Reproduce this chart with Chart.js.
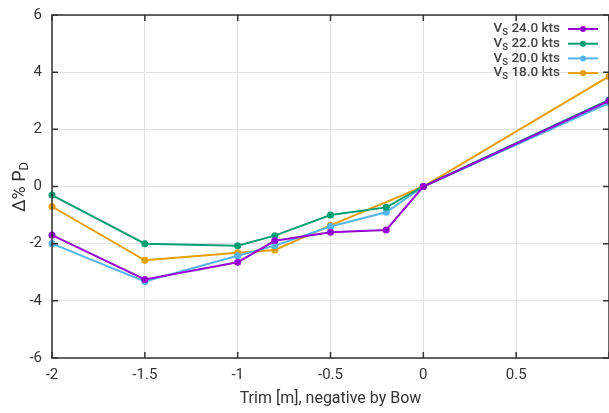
<!DOCTYPE html>
<html>
<head>
<meta charset="utf-8">
<script src="https://cdn.jsdelivr.net/npm/chart.js@4/dist/chart.umd.min.js"></script>
<style>
  html, body { margin: 0; padding: 0; background: #fff; overflow: hidden; }
  #wrap { width: 613px; height: 413px; }
</style>
</head>
<body>
<div id="wrap"><canvas id="c"></canvas></div>
<script>
// speeds (legend), trim positions and delta power per speed
const speeds = ['24.0', '22.0', '20.0', '18.0'];
const colors = ['#9400d3', '#009e73', '#56b4e9', '#e69f00'];

const trim24 = [-2, -1.5, -1, -0.8, -0.5, -0.2, 0, 1];
const dp24 = [-1.7, -3.25, -2.65, -1.9, -1.6, -1.52, 0, 3.0];

const trim22 = [-2, -1.5, -1, -0.8, -0.5, -0.2, 0, 1];
const dp22 = [-0.3, -2.0, -2.07, -1.72, -1.0, -0.73, 0, 3.03];

const trim20 = [-2, -1.5, -1, -0.8, -0.5, -0.2, 0, 1];
const dp20 = [-2.0, -3.32, -2.42, -2.07, -1.4, -0.9, 0, 2.92];

const trim18 = [-2, -1.5, -1, -0.8, -0.5, 0, 1];
const dp18 = [-0.7, -2.58, -2.32, -2.22, -1.36, 0, 3.85];

const xTicks = [-2, -1.5, -1, -0.5, 0, 0.5, 1];
const yTicks = [-6, -4, -2, 0, 2, 4, 6];

const toXY = (xs, ys) => xs.map((x, i) => ({ x: x, y: ys[i] }));
const series = [toXY(trim24, dp24), toXY(trim22, dp22), toXY(trim20, dp20), toXY(trim18, dp18)];

const FONT = 'Roboto, "Open Sans", sans-serif';

// draws frame, inward ticks, y title with subscript and the legend
const extras = {
  id: 'extras',
  afterDraw(chart) {
    const ctx = chart.ctx;
    const a = chart.chartArea;
    const xs = chart.scales.x, ys = chart.scales.y;
    ctx.save();
    ctx.strokeStyle = '#333';
    ctx.lineWidth = 1.5;
    ctx.strokeRect(a.left, a.top, a.right - a.left, a.bottom - a.top);
    ctx.beginPath();
    yTicks.forEach(v => {
      const y = ys.getPixelForValue(v);
      ctx.moveTo(a.left, y); ctx.lineTo(a.left + 6, y);
      ctx.moveTo(a.right, y); ctx.lineTo(a.right - 6, y);
    });
    xTicks.forEach(v => {
      const x = xs.getPixelForValue(v);
      ctx.moveTo(x, a.bottom); ctx.lineTo(x, a.bottom - 6);
      ctx.moveTo(x, a.top); ctx.lineTo(x, a.top + 6);
    });
    ctx.stroke();

    // y title
    ctx.fillStyle = '#333';
    ctx.translate(20, 187);
    ctx.rotate(-Math.PI / 2);
    ctx.font = '18px ' + FONT;
    ctx.textBaseline = 'middle';
    const t1 = 'Δ% P';
    const w1 = ctx.measureText(t1).width;
    ctx.font = '13px ' + FONT;
    const w2 = ctx.measureText('D').width;
    let sx = -(w1 + w2) / 2;
    ctx.font = '18px ' + FONT;
    ctx.textAlign = 'left';
    ctx.fillText(t1, sx, 0);
    ctx.font = '13px ' + FONT;
    ctx.fillText('D', sx + w1, 5);
    ctx.setTransform(1, 0, 0, 1, 0, 0);

    // legend
    speeds.forEach((s, i) => {
      const y = 29 + i * 14.7;
      const label = ' ' + s + ' kts';
      ctx.font = '500 13.5px ' + FONT;
      ctx.textBaseline = 'middle';
      const wl = ctx.measureText(label).width;
      const wv = ctx.measureText('V').width;
      ctx.font = '500 9.5px ' + FONT;
      const ws = ctx.measureText('S').width;
      const right = 560;
      const start = right - wl - ws - wv;
      ctx.fillStyle = '#444';
      ctx.font = '500 13.5px ' + FONT;
      ctx.textAlign = 'left';
      ctx.fillText('V', start, y);
      ctx.font = '500 9.5px ' + FONT;
      ctx.fillText('S', start + wv, y + 4);
      ctx.font = '500 13.5px ' + FONT;
      ctx.fillText(label, start + wv + ws, y);
      ctx.strokeStyle = colors[i];
      ctx.lineWidth = 2;
      ctx.beginPath();
      ctx.moveTo(568, y); ctx.lineTo(598, y);
      ctx.stroke();
      ctx.fillStyle = colors[i];
      ctx.beginPath();
      ctx.arc(583, y, 3, 0, Math.PI * 2);
      ctx.fill();
    });
    ctx.restore();
  }
};

new Chart(document.getElementById('c'), {
  type: 'line',
  data: {
    datasets: series.map((d, i) => ({
      label: 'Vs ' + speeds[i] + ' kts',
      data: d,
      borderColor: colors[i],
      backgroundColor: colors[i],
      borderWidth: 2,
      pointRadius: 3.5,
      pointBorderWidth: 0,
      tension: 0,
      clip: false
    }))
  },
  options: {
    responsive: true,
    maintainAspectRatio: false,
    animation: false,
    layout: { padding: { top: 15, right: 0, left: 0, bottom: 0 } },
    scales: {
      x: {
        type: 'linear',
        min: -2, max: 1,
        afterBuildTicks: s => { s.ticks = xTicks.map(v => ({ value: v })); },
        afterFit: s => { s.height = 55; s.paddingRight = 0; s.paddingLeft = 0; },
        border: { display: false },
        grid: { color: '#e2e2e2', borderDash: [2, 4], drawTicks: false },
        ticks: {
          color: '#333', padding: 8,
          font: { family: FONT, size: 15 },
          maxRotation: 0,
          callback: v => (v === 1 ? '' : String(v))
        },
        title: {
          display: true, text: 'Trim [m], negative by Bow', color: '#333',
          font: { family: FONT, size: 16 }, padding: { top: 1 }
        }
      },
      y: {
        min: -6, max: 6,
        afterBuildTicks: s => { s.ticks = yTicks.map(v => ({ value: v })); },
        afterFit: s => { s.width = 52; s.paddingTop = 0; s.paddingBottom = 0; },
        border: { display: false },
        grid: { color: '#e2e2e2', borderDash: [2, 4], drawTicks: false },
        ticks: {
          color: '#333', padding: 10,
          font: { family: FONT, size: 15 }
        }
      }
    },
    plugins: {
      legend: { display: false },
      tooltip: { enabled: false }
    }
  },
  plugins: [extras]
});
</script>
</body>
</html>
